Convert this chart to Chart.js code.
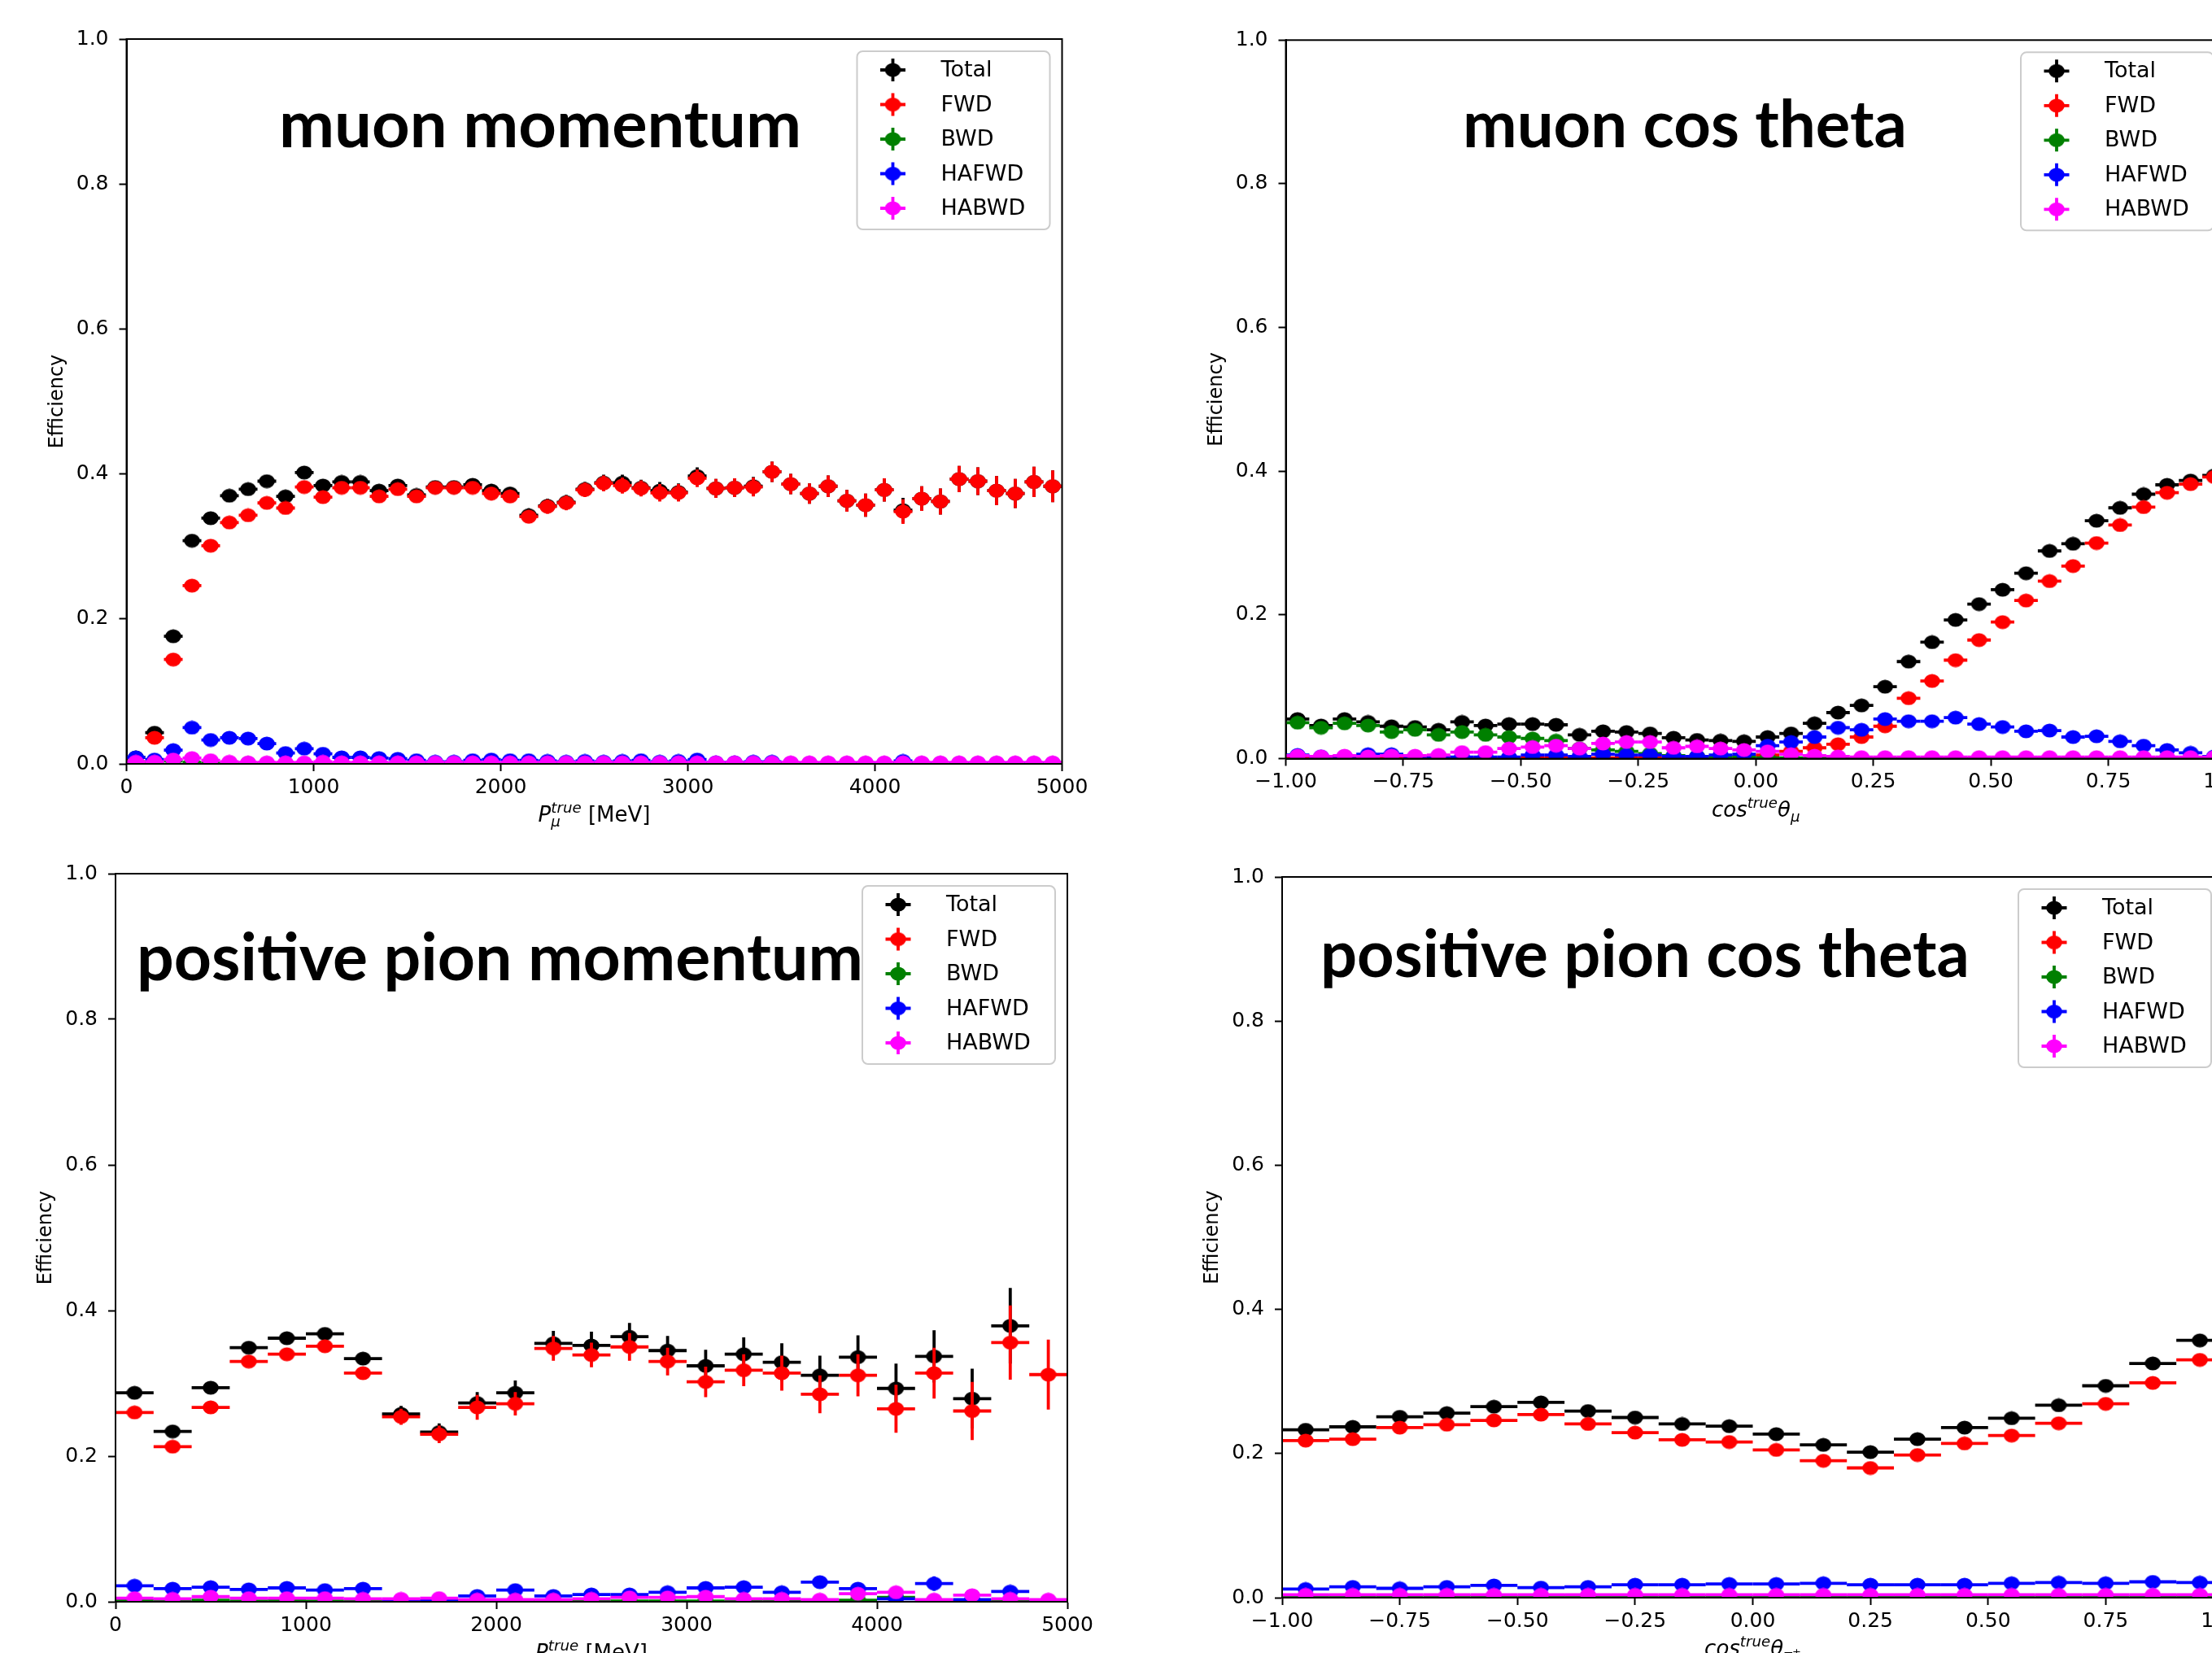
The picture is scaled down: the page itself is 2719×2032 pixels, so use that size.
<!DOCTYPE html>
<html><head><meta charset="utf-8">
<script src="https://cdn.jsdelivr.net/npm/chart.js@4.4.1/dist/chart.umd.min.js"></script>
<style>
html,body{margin:0;padding:0;background:#fff;overflow:hidden;}
body{width:2719px;height:2032px;position:relative;}
canvas.panel{position:absolute;}
</style></head><body>
<canvas id="tl" class="panel"></canvas>
<canvas id="tr" class="panel"></canvas>
<canvas id="bl" class="panel"></canvas>
<canvas id="br" class="panel"></canvas>
<script>
// ---------- shared ----------
const seriesNames = ['Total','FWD','BWD','HAFWD','HABWD'];
const seriesColors = ['#000000','#ff0000','#008000','#0000ff','#ff00ff'];
const yTicks = [0,0.2,0.4,0.6,0.8,1.0];
const yTickLabels = ['0.0','0.2','0.4','0.6','0.8','1.0'];
const momTicks = [0,1000,2000,3000,4000,5000];
const momTickLabels = ['0','1000','2000','3000','4000','5000'];
const cosTicks = [-1,-0.75,-0.5,-0.25,0,0.25,0.5,0.75,1];
const cosTickLabels = ['\u22121.00','\u22120.75','\u22120.50','\u22120.25','0.00','0.25','0.50','0.75','1.00'];
const titles = ['muon momentum','muon cos theta','positive pion momentum','positive pion cos theta'];

// ---------- top-left: muon momentum (100 MeV bins) ----------
const tlCenters = [50,150,250,350,450,550,650,750,850,950,
1050,1150,1250,1350,1450,1550,1650,1750,1850,1950,
2050,2150,2250,2350,2450,2550,2650,2750,2850,2950,
3050,3150,3250,3350,3450,3550,3650,3750,3850,3950,
4050,4150,4250,4350,4450,4550,4650,4750,4850,4950];
const tlHalfWidth = 50;
const tlTotal = [0.009,0.043,0.176,0.308,0.339,0.370,0.379,0.390,0.369,0.402,
0.384,0.389,0.389,0.377,0.384,0.371,0.382,0.382,0.385,0.377,
0.373,0.343,0.356,0.361,0.379,0.388,0.388,0.381,0.377,0.375,
0.397,0.380,0.381,0.383,0.403,0.386,0.373,0.383,0.363,0.357,
0.378,0.350,0.366,0.362,0.393,0.390,0.377,0.373,0.389,0.383];
const tlFwd = [0.003,0.036,0.144,0.246,0.301,0.333,0.343,0.360,0.353,0.382,
0.368,0.381,0.381,0.369,0.379,0.369,0.381,0.381,0.381,0.373,
0.369,0.341,0.355,0.360,0.378,0.387,0.384,0.380,0.374,0.374,
0.394,0.380,0.381,0.382,0.403,0.386,0.373,0.383,0.363,0.357,
0.378,0.348,0.366,0.362,0.393,0.390,0.377,0.373,0.389,0.383];
const tlBwd = [0.001,0.001,0.004,0.002,0.001,0.001,0.001,0,0,0,
0,0,0,0,0,0,0,0,0,0,
0,0,0,0,0,0,0,0,0,0,
0,0,0,0,0,0,0,0,0,0,
0,0,0,0,0,0,0,0,0,0];
const tlHafwd = [0.009,0.006,0.019,0.050,0.033,0.036,0.035,0.028,0.015,0.021,
0.014,0.009,0.009,0.008,0.007,0.005,0.003,0.003,0.005,0.006,
0.005,0.005,0.004,0.003,0.004,0.003,0.004,0.005,0.003,0.004,
0.006,0.002,0.002,0.003,0.003,0.001,0.001,0.001,0.001,0.001,
0.001,0.004,0.001,0.001,0.001,0.001,0.001,0.001,0.001,0.001];
const tlHabwd = [0.003,0.003,0.006,0.008,0.005,0.003,0.002,0.002,0.002,0.002,
0.003,0.002,0.002,0.002,0.002,0.002,0.002,0.002,0.002,0.002,
0.002,0.002,0.002,0.002,0.002,0.002,0.002,0.002,0.002,0.002,
0.002,0.002,0.002,0.002,0.002,0.002,0.002,0.002,0.002,0.002,
0.002,0.002,0.002,0.002,0.002,0.002,0.002,0.002,0.002,0.002];
const tlTotalErr = [0.001,0.003,0.004,0.005,0.005,0.005,0.005,0.006,0.006,0.006,
0.006,0.007,0.007,0.007,0.007,0.008,0.008,0.008,0.008,0.009,
0.009,0.009,0.010,0.010,0.010,0.011,0.011,0.011,0.012,0.012,
0.012,0.013,0.013,0.013,0.014,0.014,0.014,0.015,0.015,0.016,
0.016,0.017,0.017,0.018,0.018,0.019,0.020,0.020,0.021,0.022];
const tlFwdErr = [0.001,0.003,0.004,0.005,0.005,0.005,0.005,0.006,0.006,0.006,
0.006,0.007,0.007,0.007,0.007,0.008,0.008,0.008,0.008,0.009,
0.009,0.009,0.010,0.010,0.010,0.011,0.011,0.011,0.012,0.012,
0.012,0.013,0.013,0.013,0.014,0.014,0.014,0.015,0.015,0.016,
0.016,0.017,0.017,0.018,0.018,0.019,0.020,0.020,0.021,0.022];
const tlMinorErr = [0.002,0.002,0.003,0.004,0.003,0.003,0.003,0.003,0.002,0.003,
0.002,0.002,0.002,0.002,0.002,0.002,0.002,0.002,0.002,0.002,
0.002,0.002,0.002,0.002,0.002,0.002,0.002,0.002,0.002,0.002,
0.002,0.002,0.002,0.002,0.002,0.002,0.002,0.002,0.002,0.002,
0.002,0.002,0.002,0.002,0.002,0.002,0.002,0.002,0.002,0.002];

// ---------- top-right: muon cos theta (0.05 bins) ----------
const trCenters = [-0.975,-0.925,-0.875,-0.825,-0.775,-0.725,-0.675,-0.625,-0.575,-0.525,
-0.475,-0.425,-0.375,-0.325,-0.275,-0.225,-0.175,-0.125,-0.075,-0.025,
0.025,0.075,0.125,0.175,0.225,0.275,0.325,0.375,0.425,0.475,
0.525,0.575,0.625,0.675,0.725,0.775,0.825,0.875,0.925,0.975];
const trHalfWidth = 0.025;
const trTotal = [0.055,0.046,0.055,0.051,0.045,0.044,0.040,0.051,0.046,0.048,
0.048,0.047,0.033,0.038,0.037,0.035,0.029,0.026,0.025,0.024,
0.030,0.035,0.049,0.064,0.074,0.100,0.135,0.162,0.193,0.215,
0.235,0.258,0.289,0.299,0.331,0.349,0.368,0.381,0.387,0.394];
const trFwd = [0.001,0.001,0.001,0.001,0.001,0.001,0.001,0.001,0.001,0.001,
0.001,0.001,0.001,0.001,0.001,0.001,0.001,0.002,0.002,0.003,
0.005,0.010,0.015,0.020,0.030,0.045,0.084,0.108,0.137,0.165,
0.190,0.220,0.247,0.268,0.300,0.325,0.350,0.370,0.382,0.392];
const trBwd = [0.050,0.043,0.049,0.046,0.037,0.040,0.033,0.037,0.033,0.030,
0.028,0.025,0.014,0.012,0.010,0.007,0.004,0.003,0.002,0.002,
0.001,0.001,0.001,0,0,0,0,0,0,0,
0,0,0,0,0,0,0,0,0,0];
const trHafwd = [0.005,0.003,0.003,0.006,0.006,0.002,0.003,0.002,0.002,0.002,
0.005,0.005,0.003,0.006,0.005,0.005,0.003,0.003,0.005,0.006,
0.018,0.023,0.030,0.043,0.040,0.055,0.052,0.052,0.057,0.048,
0.044,0.038,0.039,0.030,0.031,0.024,0.018,0.012,0.008,0.003];
const trHabwd = [0.004,0.003,0.004,0.003,0.004,0.004,0.005,0.009,0.009,0.014,
0.016,0.018,0.014,0.021,0.023,0.023,0.015,0.017,0.014,0.012,
0.010,0.006,0.004,0.003,0.002,0.002,0.002,0.002,0.002,0.002,
0.002,0.002,0.002,0.002,0.002,0.002,0.002,0.002,0.002,0.002];
const trTotalErr = [0.003,0.003,0.003,0.003,0.003,0.003,0.003,0.003,0.003,0.003,
0.003,0.003,0.003,0.003,0.003,0.003,0.003,0.003,0.003,0.003,
0.003,0.003,0.003,0.004,0.004,0.004,0.005,0.005,0.005,0.005,
0.005,0.005,0.005,0.005,0.005,0.005,0.005,0.005,0.005,0.005];
const trFwdErr = [0.001,0.001,0.001,0.001,0.001,0.001,0.001,0.001,0.001,0.001,
0.001,0.001,0.001,0.001,0.001,0.001,0.001,0.001,0.001,0.001,
0.002,0.002,0.002,0.003,0.003,0.003,0.004,0.004,0.004,0.005,
0.005,0.005,0.005,0.005,0.005,0.005,0.005,0.005,0.005,0.005];
const trMinorErr = [0.002,0.002,0.002,0.002,0.002,0.002,0.002,0.002,0.002,0.002,
0.002,0.002,0.002,0.002,0.002,0.002,0.002,0.002,0.002,0.002,
0.002,0.002,0.002,0.002,0.002,0.002,0.002,0.002,0.002,0.002,
0.002,0.002,0.002,0.002,0.002,0.002,0.002,0.002,0.002,0.002];

// ---------- bottom-left: positive pion momentum (200 MeV bins) ----------
const blCenters = [100,300,500,700,900,1100,1300,1500,1700,1900,
2100,2300,2500,2700,2900,3100,3300,3500,3700,3900,
4100,4300,4500,4700,4900];
const blHalfWidth = 100;
const blTotal = [0.287,0.234,0.294,0.349,0.362,0.368,0.334,0.258,0.233,0.273,
0.287,0.355,0.352,0.364,0.345,0.324,0.340,0.329,0.311,0.336,
0.293,0.337,0.279,0.379,null];
const blFwd = [0.260,0.213,0.267,0.330,0.340,0.351,0.314,0.254,0.230,0.267,
0.272,0.348,0.339,0.350,0.330,0.302,0.318,0.314,0.285,0.311,
0.265,0.314,0.262,0.356,0.312];
const blBwd = [0.002,0.001,0.002,0.001,0.002,0.001,0.001,0,0,0.001,
0.001,0.001,0.002,0.001,0.001,0.001,0.002,0.002,0.001,0.002,
0.006,0.001,0.002,0.001,0];
const blHafwd = [0.022,0.018,0.020,0.017,0.019,0.016,0.018,0.002,0.002,0.008,
0.016,0.008,0.010,0.010,0.013,0.019,0.020,0.013,0.027,0.018,
0.004,0.025,0.003,0.014,0.001];
const blHabwd = [0.005,0.004,0.007,0.005,0.005,0.005,0.004,0.004,0.005,0.003,
0.003,0.003,0.004,0.006,0.006,0.007,0.004,0.004,0.003,0.011,
0.013,0.003,0.009,0.004,0.003];
const blTotalErr = [0.004,0.004,0.005,0.005,0.006,0.006,0.007,0.011,0.012,0.015,
0.017,0.017,0.019,0.019,0.020,0.022,0.023,0.026,0.027,0.030,
0.034,0.036,0.041,0.052,0];
const blFwdErr = [0.004,0.004,0.005,0.005,0.006,0.006,0.007,0.011,0.012,0.017,
0.016,0.017,0.017,0.019,0.019,0.021,0.022,0.024,0.026,0.029,
0.033,0.035,0.040,0.051,0.048];
const blHafwdErr = [0.003,0.003,0.003,0.003,0.003,0.003,0.003,0.001,0.001,0.003,
0.004,0.003,0.003,0.003,0.004,0.005,0.005,0.004,0.006,0.005,
0.002,0.010,0.002,0.006,0.001];
const blMinorErr = [0.002,0.002,0.002,0.002,0.002,0.002,0.002,0.002,0.002,0.002,
0.002,0.002,0.002,0.002,0.002,0.002,0.002,0.002,0.002,0.003,
0.003,0.002,0.003,0.002,0.002];

// ---------- bottom-right: positive pion cos theta (0.1 bins) ----------
const brCenters = [-0.95,-0.85,-0.75,-0.65,-0.55,-0.45,-0.35,-0.25,-0.15,-0.05,
0.05,0.15,0.25,0.35,0.45,0.55,0.65,0.75,0.85,0.95];
const brHalfWidth = 0.05;
const brTotal = [0.233,0.237,0.251,0.256,0.265,0.271,0.259,0.250,0.241,0.238,
0.227,0.212,0.202,0.220,0.236,0.249,0.267,0.294,0.325,0.357];
const brFwd = [0.218,0.220,0.236,0.240,0.246,0.254,0.241,0.229,0.219,0.216,
0.205,0.190,0.180,0.198,0.214,0.225,0.242,0.269,0.298,0.330];
const brBwd = [0.002,0.001,0.002,0.001,0.002,0.001,0.002,0.001,0.002,0.001,
0.001,0.002,0.001,0.002,0.001,0.002,0.001,0.002,0.001,0.002];
const brHafwd = [0.012,0.015,0.013,0.015,0.017,0.014,0.015,0.018,0.018,0.019,
0.019,0.020,0.018,0.018,0.018,0.020,0.021,0.020,0.022,0.021];
const brHabwd = [0.004,0.004,0.004,0.004,0.004,0.004,0.004,0.004,0.004,0.004,
0.004,0.004,0.004,0.004,0.004,0.004,0.004,0.004,0.004,0.004];
const brTotalErr = [0.003,0.003,0.003,0.003,0.003,0.003,0.003,0.003,0.003,0.003,
0.003,0.003,0.003,0.003,0.003,0.003,0.003,0.003,0.003,0.003];
const brFwdErr = [0.003,0.003,0.003,0.003,0.003,0.003,0.003,0.003,0.003,0.003,
0.003,0.003,0.003,0.003,0.003,0.003,0.003,0.003,0.003,0.003];
const brMinorErr = [0.001,0.001,0.001,0.001,0.001,0.001,0.001,0.001,0.001,0.001,
0.001,0.001,0.001,0.001,0.001,0.001,0.001,0.001,0.001,0.001];

// ---------- drawing helpers ----------
const FONT = '"DejaVu Sans"';
function makeMarker(color){
  const c = document.createElement('canvas');
  c.width = 20; c.height = 18;
  const g = c.getContext('2d');
  g.fillStyle = color;
  g.beginPath(); g.ellipse(10, 9, 9.8, 8.6, 0, 0, Math.PI*2); g.fill();
  return c;
}
const markers = seriesColors.map(makeMarker);

function segFont(s, size){ return (s.it ? 'italic ' : '') + (size*(s.sc||1)).toFixed(1) + 'px ' + FONT; }
function segW(ctx, s, size){ ctx.font = segFont(s,size); return ctx.measureText(s.t).width; }
function rowW(ctx, row, size){ return (row||[]).reduce((a,s)=>a+segW(ctx,s,size),0); }
function drawRow(ctx, row, x, y, size){
  for (const s of (row||[])) { ctx.font = segFont(s,size); ctx.fillText(s.t, x, y + (s.dy||0)*size); x += ctx.measureText(s.t).width; }
}
function itemW(ctx, it, size){ return it.t !== undefined ? segW(ctx,it,size) : Math.max(rowW(ctx,it.sup,size), rowW(ctx,it.sub,size)); }
function drawMath(ctx, items, cx, y, size){
  const total = items.reduce((a,it)=>a+itemW(ctx,it,size),0);
  let x = cx - total/2;
  ctx.textAlign = 'left'; ctx.textBaseline = 'alphabetic'; ctx.fillStyle = '#000';
  for (const it of items){
    if (it.t !== undefined) drawRow(ctx,[it],x,y,size);
    else { drawRow(ctx,it.sup,x,y,size); drawRow(ctx,it.sub,x,y,size); }
    x += itemW(ctx,it,size);
  }
}
const SUP_TRUE = [{t:'true', it:1, sc:0.7, dy:-0.42}];
const SUB_MU = [{t:'\u03bc', it:1, sc:0.7, dy:0.24}];
const SUB_PI = [{t:'\u03c0', it:1, sc:0.7, dy:0.24},{t:'+', sc:0.5, dy:0.0}];
const xLabelMomMu = [{t:'P',it:1},{sup:SUP_TRUE, sub:SUB_MU},{t:' [MeV]'}];
const xLabelCosMu = [{t:'cos',it:1},{sup:SUP_TRUE},{t:'\u03b8',it:1},{sub:SUB_MU}];
const xLabelMomPi = [{t:'P',it:1},{sup:SUP_TRUE, sub:SUB_PI},{t:' [MeV]'}];
const xLabelCosPi = [{t:'cos',it:1},{sup:SUP_TRUE},{t:'\u03b8',it:1},{sub:SUB_PI}];

const errorBarPlugin = {
  id: 'errorBars',
  beforeDatasetDraw(chart, args){
    const ds = chart.data.datasets[args.index];
    const meta = args.meta;
    const xs = chart.scales.x, ys = chart.scales.y, ca = chart.chartArea;
    const ctx = chart.ctx;
    ctx.save();
    ctx.beginPath(); ctx.rect(ca.left, ca.top, ca.right-ca.left, ca.bottom-ca.top); ctx.clip();
    ctx.strokeStyle = ds.errColor; ctx.lineWidth = 3.8; ctx.lineCap = 'butt';
    ds.data.forEach((p, i) => {
      const el = meta.data[i]; if (!el) return;
      const px = el.x, py = el.y;
      ctx.beginPath();
      ctx.moveTo(xs.getPixelForValue(p.x - p.xe), py);
      ctx.lineTo(xs.getPixelForValue(p.x + p.xe), py);
      ctx.moveTo(px, ys.getPixelForValue(p.y - p.ye));
      ctx.lineTo(px, ys.getPixelForValue(p.y + p.ye));
      ctx.stroke();
    });
    ctx.restore();
  }
};

function buildPanel(p){
  const cv = document.getElementById(p.id);
  cv.width = p.w; cv.height = p.h;
  Object.assign(cv.style, {left:p.x+'px', top:p.y+'px', width:p.w+'px', height:p.h+'px'});
  const A = {left:p.area[0]-p.x, top:p.area[1]-p.y, right:p.area[2]-p.x, bottom:p.area[3]-p.y};
  const n = p.series.length;
  const datasets = p.series.map((s,k)=>({
    label: seriesNames[k],
    data: p.centers.map((c,i)=> s.y[i]==null ? null : {x:c, y:s.y[i], xe:p.half, ye:s.e[i]}).filter(Boolean),
    pointStyle: markers[k], pointRadius: 9, pointHoverRadius: 9,
    showLine: false, clip: 0, order: n-k, errColor: seriesColors[k]
  }));
  const deco = {
    id: 'deco',
    afterDatasetsDraw(chart){
      const ctx = chart.ctx, ca = chart.chartArea;
      ctx.save();
      ctx.strokeStyle = '#000'; ctx.lineWidth = 2;
      ctx.strokeRect(ca.left, ca.top, ca.right-ca.left, ca.bottom-ca.top);
      ctx.restore();
    },
    afterDraw(chart){
      const ctx = chart.ctx, ca = chart.chartArea;
      ctx.save();
      ctx.translate(ca.left - 85, (ca.top+ca.bottom)/2);
      ctx.rotate(-Math.PI/2);
      ctx.font = '24px ' + FONT; ctx.fillStyle = '#000';
      ctx.textAlign = 'center'; ctx.textBaseline = 'middle';
      ctx.fillText('Efficiency', 0, 0);
      ctx.restore();
      ctx.save();
      drawMath(ctx, p.xlabel, (ca.left+ca.right)/2, ca.bottom + 71, 26);
      ctx.restore();
      ctx.save();
      const w = 237, h = 219, right = ca.right - 15, top = ca.top + 15, left = right - w;
      ctx.beginPath();
      if (ctx.roundRect) ctx.roundRect(left, top, w, h, 7); else ctx.rect(left, top, w, h);
      ctx.fillStyle = 'rgba(255,255,255,0.8)'; ctx.fill();
      ctx.strokeStyle = '#cccccc'; ctx.lineWidth = 2; ctx.stroke();
      seriesNames.forEach((name,k)=>{
        const cy = top + 23 + k*42.5, mx = left + 44;
        ctx.strokeStyle = seriesColors[k]; ctx.lineWidth = 3.8;
        ctx.beginPath(); ctx.moveTo(mx-15.5, cy); ctx.lineTo(mx+15.5, cy);
        ctx.moveTo(mx, cy-14); ctx.lineTo(mx, cy+14); ctx.stroke();
        ctx.drawImage(markers[k], mx-10, cy-9);
        ctx.fillStyle = '#000'; ctx.font = '27px ' + FONT;
        ctx.textAlign = 'left'; ctx.textBaseline = 'middle';
        ctx.fillText(name, left + 103, cy + 1);
      });
      ctx.restore();
      ctx.save();
      ctx.fillStyle = '#000'; ctx.textAlign = 'left'; ctx.textBaseline = 'alphabetic';
      ctx.font = 'bold 100px Lato';
      const mw = ctx.measureText(p.title.text).width;
      const fs = 100 * p.title.width / mw;
      ctx.font = 'bold ' + fs.toFixed(2) + 'px Lato';
      ctx.fillText(p.title.text, p.title.x0 - p.x, p.title.base - p.y);
      ctx.restore();
    }
  };
  const tickFont = {family:'DejaVu Sans', size:25};
  new Chart(cv, {
    type: 'scatter',
    data: {datasets},
    plugins: [errorBarPlugin, deco],
    options: {
      responsive: false, animation: false, devicePixelRatio: 1, events: [],
      layout: {padding: {left:0, top:A.top, right:p.w - A.right, bottom:0}},
      plugins: {legend:{display:false}, tooltip:{enabled:false}},
      scales: {
        x: {
          type:'linear', min:p.xmin, max:p.xmax,
          afterBuildTicks: s => { s.ticks = p.xticks.map(v=>({value:v})); },
          afterFit: s => { s.height = p.h - A.bottom; },
          ticks: {autoSkip:false, maxRotation:0, font:tickFont, color:'#000', padding:5,
                  callback: (v,i) => p.xlabels[i]},
          grid: {drawOnChartArea:false, drawTicks:true, tickLength:9, tickWidth:2, tickColor:'#000', color:'#000'},
          border: {display:true, color:'#000', width:2}
        },
        y: {
          type:'linear', min:0, max:1,
          afterBuildTicks: s => { s.ticks = yTicks.map(v=>({value:v})); },
          afterFit: s => { s.width = A.left; },
          ticks: {autoSkip:false, font:tickFont, color:'#000', padding:13,
                  callback: (v,i) => yTickLabels[i]},
          grid: {drawOnChartArea:false, drawTicks:true, tickLength:9, tickWidth:2, tickColor:'#000', color:'#000'},
          border: {display:true, color:'#000', width:2}
        }
      }
    }
  });
}

const panels = [
  {id:'tl', x:0, y:0, w:1360, h:1040, area:[155.5,48,1305.5,939],
   xmin:0, xmax:5000, xticks:momTicks, xlabels:momTickLabels, centers:tlCenters, half:tlHalfWidth,
   series:[{y:tlTotal,e:tlTotalErr},{y:tlFwd,e:tlFwdErr},{y:tlBwd,e:tlMinorErr},{y:tlHafwd,e:tlMinorErr},{y:tlHabwd,e:tlMinorErr}],
   xlabel:xLabelMomMu, title:{text:titles[0], x0:343, base:181, width:642}},
  {id:'tr', x:1380, y:0, w:1420, h:1040, area:[1580.5,49.3,2736,932.5],
   xmin:-1, xmax:1, xticks:cosTicks, xlabels:cosTickLabels, centers:trCenters, half:trHalfWidth,
   series:[{y:trTotal,e:trTotalErr},{y:trFwd,e:trFwdErr},{y:trBwd,e:trMinorErr},{y:trHafwd,e:trMinorErr},{y:trHabwd,e:trMinorErr}],
   xlabel:xLabelCosMu, title:{text:titles[1], x0:1798, base:181, width:546}},
  {id:'bl', x:0, y:1040, w:1360, h:1100, area:[142,1074,1312,1969],
   xmin:0, xmax:5000, xticks:momTicks, xlabels:momTickLabels, centers:blCenters, half:blHalfWidth,
   series:[{y:blTotal,e:blTotalErr},{y:blFwd,e:blFwdErr},{y:blBwd,e:blMinorErr},{y:blHafwd,e:blHafwdErr},{y:blHabwd,e:blMinorErr}],
   xlabel:xLabelMomPi, title:{text:titles[2], x0:168, base:1205, width:893}},
  {id:'br', x:1380, y:1040, w:1420, h:1100, area:[1576,1078,2733,1964],
   xmin:-1, xmax:1, xticks:cosTicks, xlabels:cosTickLabels, centers:brCenters, half:brHalfWidth,
   series:[{y:brTotal,e:brTotalErr},{y:brFwd,e:brFwdErr},{y:brBwd,e:brMinorErr},{y:brHafwd,e:brMinorErr},{y:brHabwd,e:brMinorErr}],
   xlabel:xLabelCosPi, title:{text:titles[3], x0:1623, base:1201, width:798}}
];
panels.forEach(buildPanel);
</script>
</body></html>
